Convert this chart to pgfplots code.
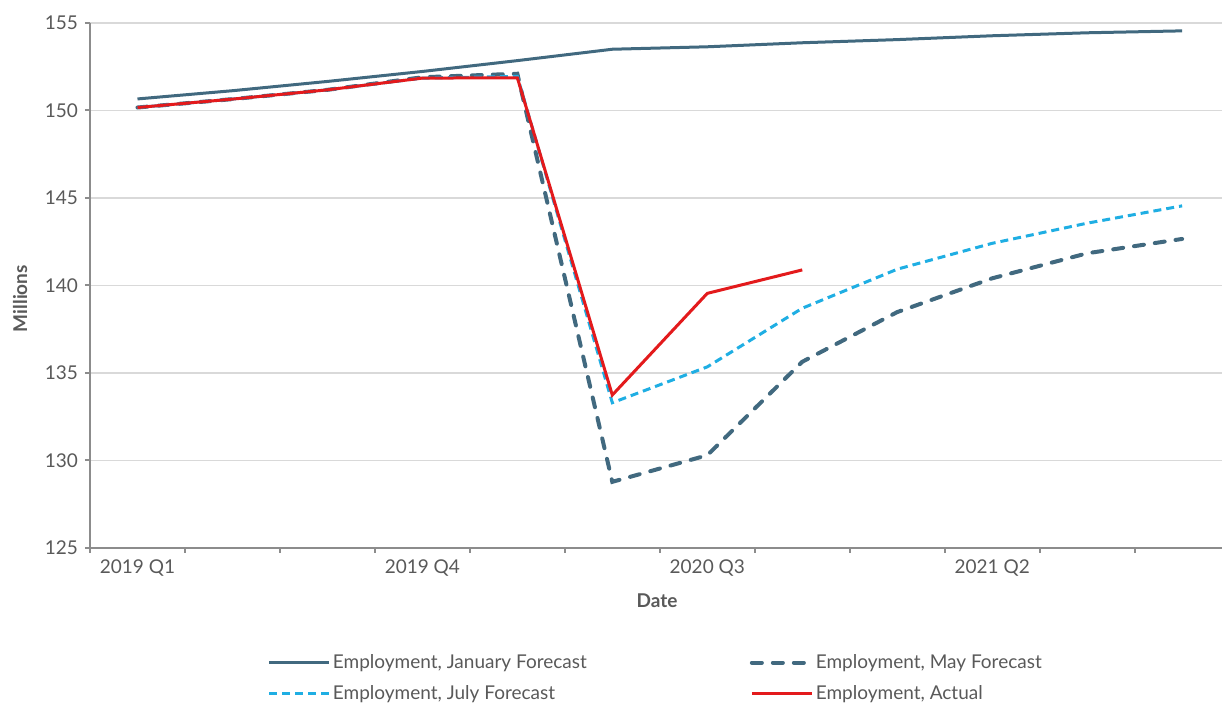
\documentclass[border=0pt]{standalone}
\usepackage{fontspec}
\setmainfont{Lato}
\usepackage{pgfplots}
\pgfplotsset{compat=1.18}
\definecolor{jan}{HTML}{41697F}
\definecolor{jul}{HTML}{1FAEE3}
\definecolor{act}{HTML}{E31A1C}
\definecolor{txt}{HTML}{595959}
\definecolor{axc}{HTML}{8C8C8C}
\definecolor{grd}{HTML}{D9D9D9}
\begin{document}
\begin{tikzpicture}[x=1pt,y=1pt]
\useasboundingbox (-45,-78.5) rectangle (566,274);
\begin{axis}[at={(0,0)}, anchor=south west, scale only axis,
  width=566pt, height=262.5pt,
  xmin=-0.5, xmax=11.42, ymin=125, ymax=155,
  axis x line*=bottom, axis y line*=left,
  axis line style={axc, line width=1pt, -},
  xtick={0,3,6,9},
  xticklabels={2019 Q1,2019 Q4,2020 Q3,2021 Q2},
  major x tick style={draw=none},
  minor xtick={-0.5,0.5,...,10.5},
  minor tick length=2.5pt,
  ytick={125,130,...,155},
  major tick length=2.5pt,
  tick align=outside,
  tick style={axc, line width=1pt},
  ymajorgrids, grid style={grd, line width=0.8pt},
  /pgf/number format/assume math mode=true,
  tick label style={font=\fontsize{9.5}{11}\selectfont, text=txt},
  xlabel={Date}, ylabel={Millions},
  label style={font=\bfseries\fontsize{9.5}{11}\selectfont, text=txt},
  xlabel style={at={(axis description cs:0.5009,0)}, anchor=center, yshift=-26.5pt},
  ylabel style={at={(axis description cs:-0.0618,0.475)}, anchor=center},
  legend columns=2,
  legend cell align=left,
  legend image code/.code={\draw[#1] (0pt,0pt) -- (30pt,0pt);},
  legend style={at={(axis description cs:0.1515,-0.19)}, anchor=north west,
    draw=none, fill=none, font=\fontsize{9.5}{11}\selectfont, text=txt,
    row sep=5pt, nodes={inner sep=1pt},
    /tikz/every even column/.append style={column sep=80.5pt}},
]
\addplot[jan, line width=1.5pt] coordinates {
(0,150.66) (1,151.13) (2,151.66) (3,152.23) (4,152.85) (5,153.5)
(6,153.64) (7,153.87) (8,154.05) (9,154.27) (10,154.44) (11,154.55)};
\addlegendentry{Employment, January Forecast}
\addplot[jan, line width=2pt, line cap=round, dash pattern=on 5pt off 5.5pt] coordinates {
(0,150.17) (1,150.65) (2,151.18) (3,151.9) (4,152.1) (5,128.78)
(6,130.3) (7,135.64) (8,138.48) (9,140.41) (10,141.84) (11,142.66)};
\addlegendentry{Employment, May Forecast}
\addplot[jul, line width=1.5pt, dash pattern=on 4pt off 2.5pt] coordinates {
(0,150.17) (1,150.65) (2,151.18) (3,151.85) (4,151.95) (5,133.3)
(6,135.35) (7,138.7) (8,140.93) (9,142.41) (10,143.56) (11,144.55)};
\addlegendentry{Employment, July Forecast}
\addplot[act, line width=1.5pt] coordinates {
(0,150.17) (1,150.65) (2,151.18) (3,151.85) (4,151.87) (5,133.74)
(6,139.55) (7,140.89)};
\addlegendentry{Employment, Actual}
\end{axis}
\end{tikzpicture}
\end{document}
